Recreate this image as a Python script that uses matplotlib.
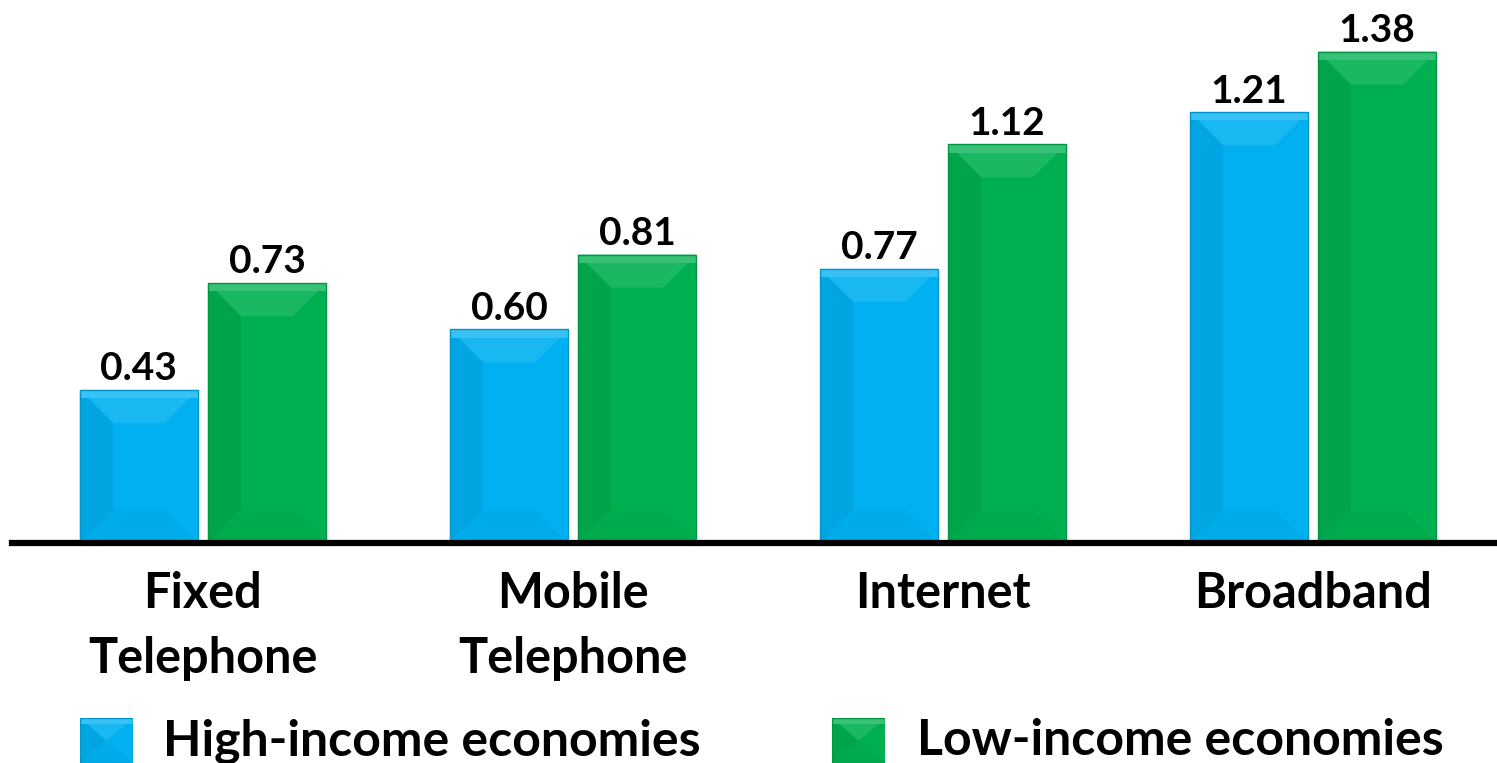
import matplotlib.pyplot as plt
from matplotlib.patches import Polygon, Rectangle
import matplotlib.colors as mcolors

categories = ["Fixed\nTelephone", "Mobile\nTelephone", "Internet", "Broadband"]
high_income = [0.43, 0.60, 0.77, 1.21]
low_income = [0.73, 0.81, 1.12, 1.38]
series_names = ["High-income economies", "Low-income economies"]

plt.rcParams['font.family'] = ['Lato', 'DejaVu Sans']
plt.rcParams['font.weight'] = 'bold'

BLUE = "#00b0f0"
GREEN = "#00b050"


def shade(c, f):
    r, g, b = mcolors.to_rgb(c)
    if f >= 0:
        return (r + (1 - r) * f, g + (1 - g) * f, b + (1 - b) * f)
    return (r * (1 + f), g * (1 + f), b * (1 + f))


def bevel(ax, x0, w, h, color, d_px=33):
    # convert bevel depth from pixels to data units
    inv = ax.transData.inverted()
    p0 = inv.transform((0, 0))
    p1 = inv.transform((d_px, d_px))
    dx, dy = p1[0] - p0[0], p1[1] - p0[1]
    dy = min(dy, h / 2)
    dx = min(dx, w / 2)
    x1 = x0 + w
    top = Polygon([(x0, h), (x1, h), (x1 - dx, h - dy), (x0 + dx, h - dy)],
                  closed=True, color=shade(color, 0.10), lw=0, zorder=3)
    bot = Polygon([(x0, 0), (x1, 0), (x1 - dx, dy), (x0 + dx, dy)],
                  closed=True, color=shade(color, -0.03), lw=0, zorder=3)
    left = Polygon([(x0, 0), (x0 + dx, dy), (x0 + dx, h - dy), (x0, h)],
                   closed=True, color=shade(color, -0.06), lw=0, zorder=3)
    for p in (top, bot, left):
        ax.add_patch(p)
    # bright strip at the very top
    ax.add_patch(Rectangle((x0, h - dy * 0.25), w, dy * 0.25,
                           color=shade(color, 0.22), lw=0, zorder=3))
    ax.add_patch(Rectangle((x0, 0), w, h, fill=False,
                           ec=shade(color, -0.15), lw=1, zorder=4))


fig = plt.figure(figsize=(14.97, 7.63), dpi=100)
ax = fig.add_axes([12 / 1497, 220 / 763, 1 - 12 / 1497, 534 / 763])

x = list(range(len(categories)))
w = 0.319
off = 0.173
ax.set_xlim(-0.516, 3.497)
ax.set_ylim(0, 1.5)

bars_h = ax.bar([i - off for i in x], high_income, w, color=BLUE, zorder=2)
bars_l = ax.bar([i + off for i in x], low_income, w, color=GREEN, zorder=2)

for bars, col in ((bars_h, BLUE), (bars_l, GREEN)):
    for b in bars:
        bevel(ax, b.get_x(), b.get_width(), b.get_height(), col)
        ax.annotate(f"{b.get_height():.2f}", (b.get_x() + b.get_width() / 2, b.get_height()),
                    xytext=(0, 7), textcoords="offset points", ha="center", va="baseline",
                    fontsize=28, fontweight="bold")

for s in ("top", "right", "left"):
    ax.spines[s].set_visible(False)
ax.spines["bottom"].set_linewidth(4.5)
ax.spines["bottom"].set_zorder(5)
ax.set_yticks([])
ax.set_xticks(x)
ax.set_xticklabels(categories, fontsize=35, fontweight="bold", linespacing=1.55)
ax.tick_params(axis="x", length=0, pad=20)

# legend
for i, (name, col) in enumerate(zip(series_names, [BLUE, GREEN])):
    lx = [80, 832][i]
    tx = [163, 917][i]
    lax = fig.add_axes([lx / 1497, 0, 53 / 1497, 45 / 763])
    lax.set_xlim(0, 1)
    lax.set_ylim(0, 1)
    lax.axis("off")
    lax.add_patch(Rectangle((0, 0), 1, 1, color=col, lw=0, zorder=2))
    bevel(lax, 0, 1, 1, col, d_px=26)
    fig.text(tx / 1497, 8 / 763, name, fontsize=36, fontweight="bold", va="baseline")

fig.savefig("out.png", dpi=100)
